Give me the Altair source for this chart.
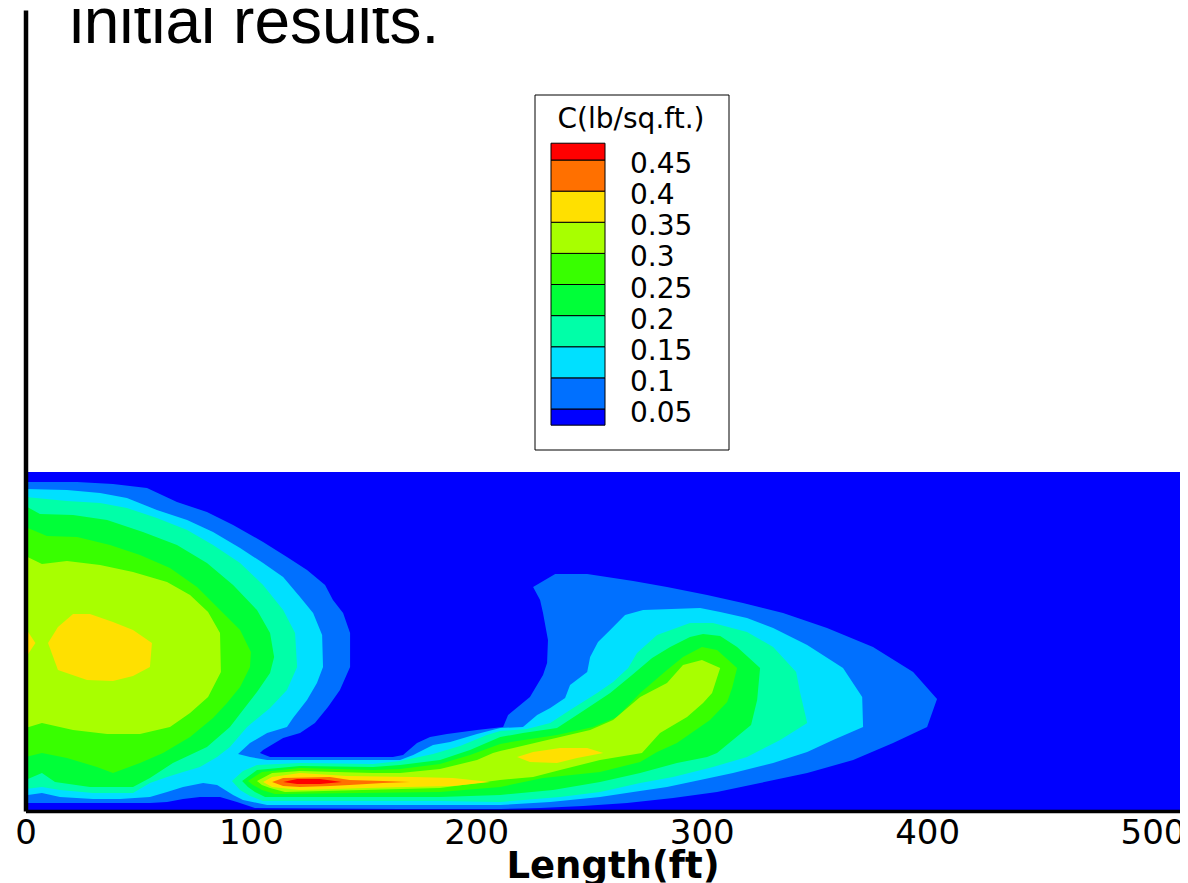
import altair as alt
import pandas as pd

THRESHOLDS = [0.05, 0.1, 0.15, 0.2, 0.25, 0.3, 0.35, 0.4, 0.45]
COLORS = ["#0000ff", "#0070ff", "#00e0ff", "#00ffa8", "#00ff38", "#38ff00", "#a8ff00", "#ffe000", "#ff7000", "#ff0000"]
TICKS = [0, 100, 200, 300, 400, 500]
LEGEND_LOW = [0.024, 0.05, 0.1, 0.15, 0.2, 0.25, 0.3, 0.35, 0.4, 0.45]
LEGEND_HIGH = [0.05, 0.1, 0.15, 0.2, 0.25, 0.3, 0.35, 0.4, 0.45, 0.477]
LEGEND_MID = [0.03, 0.07, 0.12, 0.17, 0.22, 0.27, 0.32, 0.37, 0.42, 0.46]
LEGEND_LABELS = ["0.05", "0.1", "0.15", "0.2", "0.25", "0.3", "0.35", "0.4", "0.45"]

BACKGROUND = [(0, 0), (516, 0), (516, 339), (0, 339)]
C05 = [(0,329),(22.9,329),(38.8,327),(53.9,323),(67.2,309),(80.5,299),(92.1,286),(105.4,269),(116,254),(124.9,241),(132.9,226),(136.4,211),(140.9,198),(144,178),(144,144),(139.5,121),(134.2,104),(128.4,88),(121.8,78),(114.3,73),(105.4,61),(104,58),(108.5,54),(163,54),(167.5,56),(173.7,68),(179.5,74),(187,77),(200.3,81),(211.9,84),(214.1,96),(223.8,114),(229.6,136),(231.4,148),(231.8,171),(229.6,198),(228.3,211),(225.2,224),(235,237),(249.2,237),(269.6,230),(284.6,224),(302.4,216),(318.3,208),(336.1,198),(355.6,183),(376,164),(393.8,139),(404.4,112),(400,84),(384.9,68),(367.2,51),(346.8,38),(325.9,28),(306.8,19),(287.3,13),(266.9,8),(247.4,5),(228.3,3),(210.6,2),(166.2,2),(101.8,3),(93.8,9),(86.3,14),(77.4,14),(69.9,12),(62.8,9),(55.2,8),(0,8)]
C10 = [(0,322),(18.4,321),(33.1,318),(45,313),(58.3,301),(71.7,291),(83.2,279),(95.2,263),(105.4,248),(114.3,234),(121.8,214),(127.6,198),(131.6,176),(132,144),(129.3,128),(124.9,111),(118.7,93),(116,84),(107.2,78),(99.6,68),(94.3,57),(99.6,54),(107.2,51),(166.2,51),(172,56),(180.8,66),(188.4,69),(200.3,77),(210.6,83),(220.7,84),(227,96),(232.8,103),(239.4,113),(241.6,126),(249.2,139),(250.5,154),(254,169),(259.4,181),(266,196),(274,201),(299.3,203),(308.2,199),(320.1,193),(331.7,183),(346.8,166),(362.7,143),(371.2,114),(371.6,84),(358.3,71),(346.8,59),(331.7,48),(313.9,38),(299.3,31),(284.6,24),(269.6,19),(254.9,14),(232.8,9),(210.6,6),(107.2,6),(96.5,11),(92.1,16),(85,26),(78.8,28),(69.9,24),(62.8,19),(55.2,14),(41.9,12),(30,12),(15.3,14),(7.3,18),(1.1,16),(0,16)]
C15_LEFT = [(0,314),(18.4,310),(33.1,308),(45,303),(58.3,293),(71.7,281),(83.2,266),(95.2,248),(105.4,226),(114.3,201),(119.6,178),(120.5,144),(116,121),(108.5,103),(98.3,84),(90.7,64),(85,54),(77.4,44),(69.9,39),(62.8,34),(55.2,28),(47.7,18),(30,18),(15.3,21),(7.3,24),(0,22)]
C20_LEFT = [(0,305),(6.4,297),(21.1,296),(36.2,291),(52.1,279),(67.2,266),(80.5,248),(92.1,226),(102.7,201),(108.5,178),(110.3,154),(108.5,138),(102.7,119),(96.5,101),(90.7,84),(80.5,64),(65.4,48),(55.2,33),(47.7,24),(28.6,24),(13.1,29),(7.3,38),(0,31)]
C25_LEFT = [(0,284),(9.5,275),(22.9,274),(37.5,266),(50.8,256),(64.1,243),(76.1,224),(86.3,201),(95.2,181),(100,159),(99.6,144),(95.2,124),(89.4,108),(83.2,93),(73,74),(61,58),(50.8,48),(38.8,38),(31.7,44),(18.4,53),(7.3,58),(0,54)]
C30_LEFT = [(0,255),(7.3,247),(18.4,250),(33.1,246),(47.7,239),(62.8,229),(73,216),(81,199),(86.3,178),(86.7,139),(81,114),(73,98),(64.1,84),(50.8,77),(36.2,77),(21.1,81),(7.3,88),(0,83)]
C35_LEFT = [(10,168),(14.4,184),(21.1,197),(28.6,197),(38.8,189),(47.7,181),(56.1,168),(55.2,144),(47.7,135),(38.8,130),(27.3,131),(14.4,141)]
C35_EDGE = [(0,183),(4.4,168),(0,153)]
C15_RIGHT = [(91.6,30),(96.5,40),(102.7,46),(121.8,48),(154.2,47),(166.2,50),(180.8,57),(192.8,65),(204.7,76),(210.6,80),(222.5,82),(232.8,88),(241.6,101),(253.6,118),(260.7,129),(267.4,143),(271.3,158),(280.2,176),(294.8,188),(305,188),(320.1,179),(331.7,164),(341.9,139),(343.7,118),(346.8,88),(334.8,71),(320.1,54),(305,44),(287.3,34),(272.7,28),(254.9,19),(237.2,14),(210.6,9),(183.9,10),(105.4,10),(99.6,15),(95.2,21)]
C20_RIGHT = [(96.1,30),(102.7,41),(121.8,45),(154.2,44),(166.2,46),(183.9,51),(197.2,61),(210.6,74),(220.7,78),(235.8,83),(246,98),(259.4,118),(269.1,136),(278,153),(286,164),(294.8,174),(300.6,177),(308.2,175),(315.7,164),(325.9,143),(324.6,111),(321.9,86),(306.8,58),(302.4,54),(289,48),(272.7,38),(254.9,29),(234,21),(210.6,16),(183.9,14),(106.3,14),(101.8,19),(98.7,24)]
C25_RIGHT = [(98.7,30),(104.9,39),(121.8,43),(154.2,41),(166.2,42),(183.9,47),(197.2,56),(210.6,67),(218.1,70),(235.8,76),(251.8,84),(262.5,94),(272.7,118),(284.6,141),(291.7,154),(300.1,164),(306.8,161),(315.7,143),(313.5,123),(311.3,109),(303.7,91),(289,68),(280.2,59),(272.7,49),(254.9,39),(229.6,33),(210.6,24),(183.9,19),(110.7,17),(104.9,21),(100.9,26)]
C30_RIGHT = [(102.7,30),(109.4,38),(121.8,40),(154.2,38),(166.2,38),(183.9,42),(200.3,51),(207.4,58),(210.6,60),(229.6,70),(250.5,81),(260.7,91),(272.7,114),(284.6,128),(291.7,146),(300.1,151),(308.2,143),(304.6,118),(300.6,108),(293.5,94),(281.5,78),(273.5,58),(254.9,51),(237.2,41),(225.2,34),(210.6,31),(183.9,23),(115.1,19),(108.5,23),(104.9,26)]
C35_LOBE = [(218.1,54),(225.2,59),(237.2,63),(249.2,63),(256.3,58),(244.7,53),(235.8,48),(223.8,49)]
C35_BAND = [(105.4,29),(109.4,34),(121.8,38),(142.6,35),(171.9,34),(189.7,33),(206.1,29),(189.7,25),(169.2,24),(151.5,23),(121.8,21),(109.4,24)]
C40_BAND = [(109.4,29),(114.3,33),(135.1,34),(143.8,31),(158.6,30),(170.6,29),(158.6,28),(143.8,26),(135.1,25),(121.8,24),(114.3,25)]
C45_BAND = [(114.3,29),(120.5,32),(130.7,32),(140.4,29),(130.7,27),(120.5,27)]

POLYGONS = [
    (BACKGROUND, 0.02), (C05, 0.07), (C10, 0.12),
    (C15_LEFT, 0.17), (C15_RIGHT, 0.17),
    (C20_LEFT, 0.22), (C20_RIGHT, 0.22),
    (C25_LEFT, 0.27), (C25_RIGHT, 0.27),
    (C30_LEFT, 0.32), (C30_RIGHT, 0.32),
    (C35_LEFT, 0.37), (C35_EDGE, 0.37), (C35_LOBE, 0.37), (C35_BAND, 0.37),
    (C40_BAND, 0.42), (C45_BAND, 0.47),
]

rows = []
for p, (pts, level) in enumerate(POLYGONS):
    for i, (x, h) in enumerate(pts):
        rows.append({"poly": f"p{p:02d}", "i": i, "x": x, "h": h, "level": level})
df = pd.DataFrame(rows)

color_scale = alt.Scale(type="threshold", domain=THRESHOLDS, range=COLORS)
h_scale = alt.Scale(domain=[0, 801], nice=False, zero=False)
x_scale = alt.Scale(domain=[0, 512.2], nice=False, zero=False)
legend_scale = alt.Scale(domain=[0, 0.5], range=[430.1, 118.9], nice=False, zero=False)
x_axis = alt.Axis(values=TICKS, title="Length(ft)", grid=False, ticks=False, domainColor="black", domainWidth=3.5,
                  labelFont="DejaVu Sans", labelFontSize=34, labelColor="black", labelPadding=5, labelFlush=False,
                  labelOverlap=False, labelBound=False, titleFont="DejaVu Sans", titleFontWeight="bold", titleFontSize=37,
                  titleColor="black", titleX=587, titleY=55, titleBaseline="middle", titleAlign="center", zindex=1)

contours = alt.Chart(df).mark_line(interpolate="linear-closed", strokeWidth=0, clip=True).encode(
    x=alt.X("x:Q", scale=x_scale, axis=x_axis),
    y=alt.Y("h:Q", scale=h_scale,
            axis=alt.Axis(labels=False, ticks=False, grid=False, title=None, domainColor="black", domainWidth=4.5, zindex=1)),
    order=alt.Order("i:Q"),
    detail="poly:N",
    fill=alt.Fill("level:Q", scale=color_scale, legend=None),
)

note = alt.Chart(pd.DataFrame({"x": [19.5], "h": [768], "t": ["initial results."]})).mark_text(
    align="left", baseline="alphabetic", font="Liberation Sans", fontSize=64, color="black", clip=False
).encode(x=alt.X("x:Q", scale=x_scale, axis=x_axis), y=alt.Y("h:Q", scale=h_scale, axis=None), text="t:N")

legend_box = alt.Chart(pd.DataFrame({"k": [0]})).mark_rect(fill="white", stroke="black", strokeWidth=1).encode(
    x=alt.value(509.5), x2=alt.value(703.5), y=alt.value(85), y2=alt.value(440)
)
legend_title = alt.Chart(pd.DataFrame({"t": ["C(lb/sq.ft.)"]})).mark_text(
    align="center", baseline="middle", font="DejaVu Sans", fontSize=28, color="black"
).encode(x=alt.value(605.5), y=alt.value(110), text="t:N")

cells = pd.DataFrame({"low": LEGEND_LOW, "high": LEGEND_HIGH, "mid": LEGEND_MID})
legend_cells = alt.Chart(cells).mark_rect(stroke="black", strokeWidth=1).encode(
    x=alt.value(525.5), x2=alt.value(579.5),
    y=alt.Y("low:Q", scale=legend_scale, axis=None), y2="high:Q",
    fill=alt.Fill("mid:Q", scale=color_scale, legend=None),
)
labels = pd.DataFrame({"v": THRESHOLDS, "t": LEGEND_LABELS})
legend_labels = alt.Chart(labels).mark_text(
    align="left", baseline="middle", dy=5, font="DejaVu Sans", fontSize=28, color="black"
).encode(x=alt.value(604.5), y=alt.Y("v:Q", scale=legend_scale, axis=None), text="t:N")

chart = alt.layer(contours, note, legend_box, legend_title, legend_cells, legend_labels).resolve_scale(
    y="independent", x="shared"
).properties(
    width=1154.5, height=801,
    autosize=alt.AutoSizeParams(type="none"),
    padding={"left": 17.5, "top": 2, "right": 0, "bottom": 72},
).configure_view(strokeWidth=0)

chart.save("out.html", embed_options={"renderer": "svg", "actions": False})
